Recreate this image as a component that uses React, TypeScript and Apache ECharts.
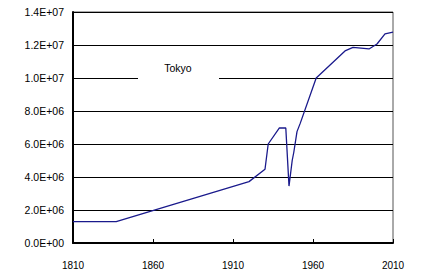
import React, { useEffect, useRef } from "react";
import * as echarts from "echarts";

const years = [1810, 1837, 1920, 1930, 1932, 1939, 1943, 1945, 1947, 1948, 1950, 1952, 1962, 1980, 1985, 1995, 2000, 2005, 2010];
const population = [1.3e6, 1.3e6, 3.72e6, 4.47e6, 6.0e6, 6.97e6, 6.97e6, 3.45e6, 5.0e6, 5.5e6, 6.75e6, 7.25e6, 1.0e7, 1.164e7, 1.186e7, 1.176e7, 1.206e7, 1.267e7, 1.278e7];
const xStart = 1810;
const xEnd = 2010;
const xStep = 50;
const yMax = 1.4e7;
const yStep = 2e6;
const seriesName = "Tokyo";

function sci(v: number): string {
  if (v === 0) return "0.0E+00";
  const exp = Math.floor(Math.log10(Math.abs(v)) + 1e-9);
  const mant = v / Math.pow(10, exp);
  return mant.toFixed(1) + "E+" + String(exp).padStart(2, "0");
}

export default function App() {
  const ref = useRef<HTMLDivElement>(null);
  useEffect(() => {
    if (!ref.current) return;
    const chart = echarts.init(ref.current, undefined, { renderer: "svg" });
    const font = "'Liberation Sans', Arial, sans-serif";
    chart.setOption({
      animation: false,
      backgroundColor: "#fff",
      grid: {
        left: 73,
        right: 30,
        top: 12,
        bottom: 28,
        show: true,
        borderColor: "#555",
        borderWidth: 1,
        backgroundColor: "transparent",
      },
      xAxis: {
        type: "value",
        min: 0,
        max: xEnd - xStart,
        interval: xStep,
        axisLine: { show: true, onZero: false, lineStyle: { color: "#000", width: 2 } },
        axisTick: { show: true, inside: true, length: 4, lineStyle: { color: "#000", width: 1 } },
        splitLine: { show: false },
        axisLabel: {
          formatter: (v: number) => String(v + xStart),
          color: "#000",
          fontSize: 10,
          fontFamily: font,
          margin: 17,
        },
      },
      yAxis: {
        type: "value",
        min: 0,
        max: yMax,
        interval: yStep,
        axisLine: { show: true, lineStyle: { color: "#000", width: 2 } },
        axisTick: { show: false },
        splitLine: { show: true, lineStyle: { color: "#000", width: 1 } },
        axisLabel: {
          formatter: (v: number) => sci(v),
          color: "#000",
          fontSize: 10.5,
          fontFamily: font,
          margin: 9,
        },
      },
      graphic: [
        {
          type: "rect",
          z: 100,
          shape: { x: 138, y: 52, width: 81, height: 36 },
          style: { fill: "#fff" },
        },
        {
          type: "text",
          z: 101,
          x: 178,
          y: 68,
          style: {
            text: seriesName,
            fill: "#000",
            fontSize: 10.5,
            fontFamily: font,
            align: "center",
            verticalAlign: "middle",
          },
        },
      ],
      series: [
        {
          name: seriesName,
          type: "line",
          data: years.map((y, i) => [y - xStart, population[i]]),
          showSymbol: false,
          symbol: "none",
          lineStyle: { color: "#1a1a8c", width: 1.3 },
          z: 5,
        },
      ],
    });
    return () => chart.dispose();
  }, []);
  return <div ref={ref} style={{ position: "fixed", left: 0, top: 0, width: 423, height: 271 }} />;
}
